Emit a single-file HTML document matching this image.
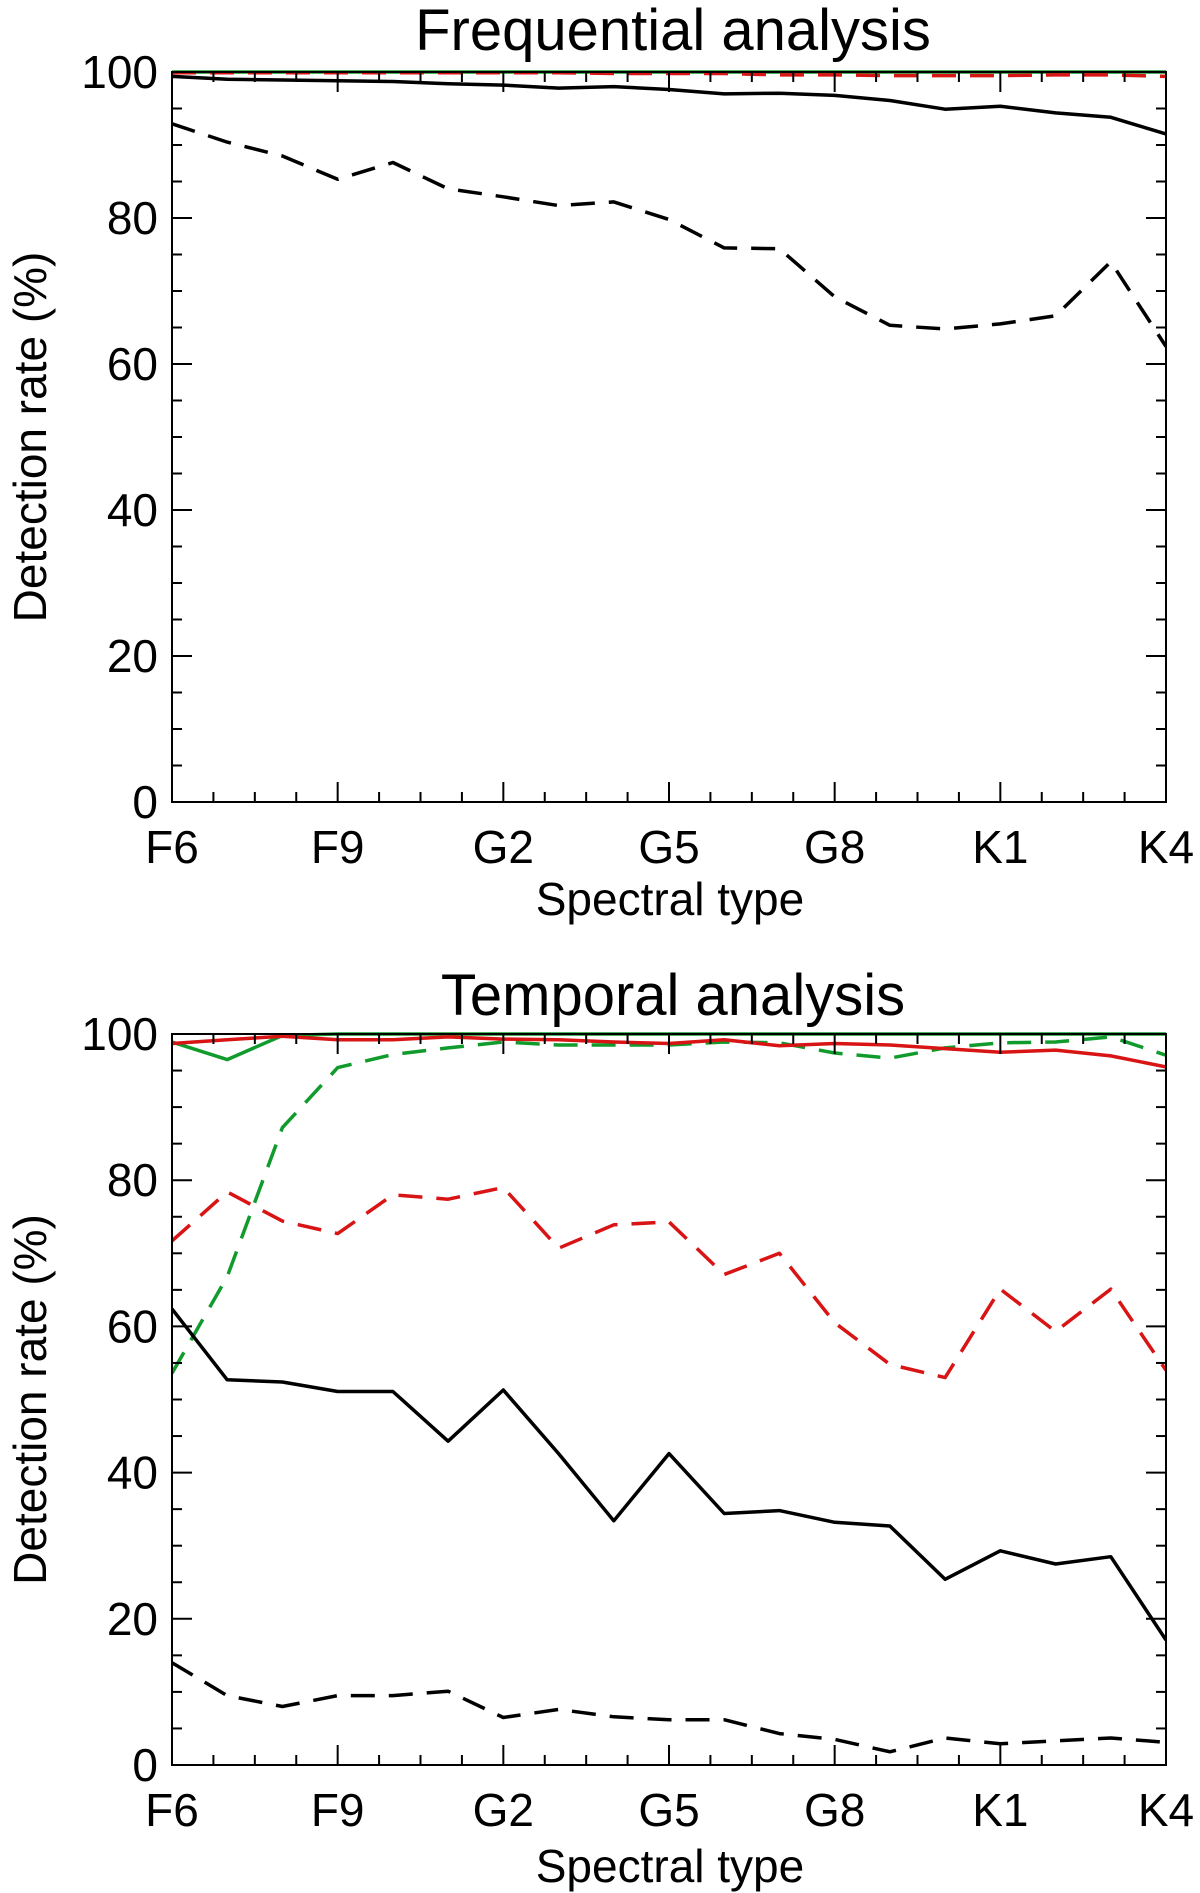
<!DOCTYPE html>
<html><head><meta charset="utf-8">
<style>
html,body{margin:0;padding:0;background:#fff;}
svg{display:block;font-family:"Liberation Sans",sans-serif;}
</style></head>
<body>
<svg id="fig" width="1200" height="1893" viewBox="0 0 1200 1893" xmlns="http://www.w3.org/2000/svg"></svg>
<script>
const categories = ["F6","F7","F8","F9","G0","G1","G2","G3","G4","G5","G6","G7","G8","G9","K0","K1","K2","K3","K4"];
const xTickLabels = ["F6","F9","G2","G5","G8","K1","K4"];
const yTickLabels = [0,20,40,60,80,100];

const freqBlackSolid = [99.4,99.0,98.9,98.8,98.7,98.4,98.2,97.8,98.0,97.6,97.0,97.1,96.8,96.1,94.9,95.3,94.4,93.8,91.5];
const freqBlackDashed = [92.9,90.4,88.5,85.3,87.6,84.0,82.9,81.7,82.2,79.8,75.9,75.8,69.2,65.3,64.8,65.5,66.6,74.0,62.4];
const freqGreenSolid = [100,100,100,100,100,100,100,100,100,100,100,100,100,100,100,100,100,100,100];
const freqRedDashed = [99.9,99.9,99.9,99.9,99.9,99.9,99.9,99.9,99.8,99.8,99.8,99.6,99.6,99.5,99.5,99.5,99.6,99.6,99.4];

const tempBlackSolid = [62.4,52.7,52.4,51.1,51.1,44.3,51.3,42.6,33.4,42.6,34.4,34.8,33.2,32.7,25.4,29.3,27.5,28.5,17.1];
const tempBlackDashed = [14.0,9.5,8.0,9.5,9.5,10.1,6.5,7.6,6.6,6.2,6.2,4.3,3.5,1.8,3.7,2.9,3.3,3.7,3.1];
const tempRedDashed = [71.7,78.4,74.4,72.7,78.0,77.4,79.0,70.7,73.9,74.3,67.1,70.0,60.5,54.8,53.0,65.1,59.3,65.1,54.0];
const tempGreenDashed = [53.6,66.8,87.2,95.4,97.2,98.1,98.9,98.5,98.5,98.5,98.9,98.8,97.4,96.7,98.1,98.8,98.9,99.6,97.1];
const tempGreenSolid = [98.9,96.5,99.8,100,100,100,100,100,100,100,100,100,100,100,100,100,100,100,100];
const tempRedSolid = [98.7,99.2,99.7,99.2,99.2,99.6,99.3,99.2,98.9,98.7,99.2,98.4,98.7,98.5,98.0,97.5,97.8,97.0,95.5];

const NS = "http://www.w3.org/2000/svg";
const svg = document.getElementById('fig');
function el(tag, attrs, parent){
  const e = document.createElementNS(NS, tag);
  for (const k in attrs) e.setAttribute(k, attrs[k]);
  (parent||svg).appendChild(e);
  return e;
}
const X0=172, X1=1166;
function makePanel(name, top, bottom, title, titleY, xlabY, xtitleY, series){
  const g = el('g', {});
  
  
  const xs = i => X0 + (X1-X0)*i/(categories.length-1);
  const ys = v => bottom - (bottom-top)*v/100;
  const clipId = name+'-clip';
  const defs = el('defs', {}, g);
  const cp = el('clipPath', {id:clipId}, defs);
  el('rect', {x:X0, y:top-2, width:X1-X0, height:bottom-top+2}, cp);
  const sg = el('g', {'clip-path':'url(#'+clipId+')'}, g);
  series.forEach(s=>{
    const d = s.data.map((v,i)=>(i?'L':'M')+xs(i).toFixed(1)+','+ys(v).toFixed(1)).join(' ');
    const p = el('path', {d:d, fill:'none', stroke:s.color, 'stroke-width':3.5, 'stroke-linejoin':'round'}, sg);
    if (s.dash) p.setAttribute('stroke-dasharray','24 14');
    
    
  });
  const fr = el('rect', {x:X0, y:top, width:X1-X0, height:bottom-top, fill:'none', stroke:'#000', 'stroke-width':2}, g);
  
  
  for (let v=0; v<=100; v+=5){
    const y = ys(v), L = v%20===0 ? 20 : 10;
    el('line', {x1:X0, x2:X0+L, y1:y, y2:y, stroke:'#000', 'stroke-width':2}, g);
    el('line', {x1:X1, x2:X1-L, y1:y, y2:y, stroke:'#000', 'stroke-width':2}, g);
  }
  yTickLabels.forEach(v=>{
    const t = el('text', {x:158, y:ys(v)+16, 'text-anchor':'end', 'font-size':46}, g);
    t.textContent = v;
    
    
  });
  const nMinor = (categories.length-1)/0.75;
  for (let k=0; k<=nMinor; k++){
    const x = X0 + (X1-X0)*k/nMinor, L = k%4===0 ? 20 : 10;
    el('line', {x1:x, x2:x, y1:bottom, y2:bottom-L, stroke:'#000', 'stroke-width':2}, g);
    el('line', {x1:x, x2:x, y1:top, y2:top+L, stroke:'#000', 'stroke-width':2}, g);
  }
  xTickLabels.forEach((lab,j)=>{
    const x = X0 + (X1-X0)*j/(xTickLabels.length-1);
    const t = el('text', {x:x, y:xlabY, 'text-anchor':'middle', 'font-size':46}, g);
    t.textContent = lab;
    
    
  });
  const tt = el('text', {x:673, y:titleY, 'text-anchor':'middle', 'font-size':58}, g);
  tt.textContent = title;
  
  
  const xt = el('text', {x:670, y:xtitleY, 'text-anchor':'middle', 'font-size':46}, g);
  xt.textContent = 'Spectral type';
  
  
  const cy = (top+bottom)/2;
  const yt = el('text', {x:0, y:0, 'text-anchor':'middle', 'font-size':46, transform:'translate(46,'+cy+') rotate(-90)'}, g);
  yt.textContent = 'Detection rate (%)';
  
  
}
makePanel('frequential-panel', 72, 802, 'Frequential analysis', 50, 863, 915, [
  {name:'freq-green-solid', data:freqGreenSolid, color:'#119b2c', dash:false},
  {name:'freq-red-dashed', data:freqRedDashed, color:'#d81414', dash:true},
  {name:'freq-black-solid', data:freqBlackSolid, color:'#000', dash:false},
  {name:'freq-black-dashed', data:freqBlackDashed, color:'#000', dash:true}
]);
makePanel('temporal-panel', 1034, 1765, 'Temporal analysis', 1015, 1826, 1882, [
  {name:'temp-green-solid', data:tempGreenSolid, color:'#119b2c', dash:false},
  {name:'temp-green-dashed', data:tempGreenDashed, color:'#119b2c', dash:true},
  {name:'temp-red-solid', data:tempRedSolid, color:'#d81414', dash:false},
  {name:'temp-red-dashed', data:tempRedDashed, color:'#d81414', dash:true},
  {name:'temp-black-solid', data:tempBlackSolid, color:'#000', dash:false},
  {name:'temp-black-dashed', data:tempBlackDashed, color:'#000', dash:true}
]);
</script>
</body></html>
